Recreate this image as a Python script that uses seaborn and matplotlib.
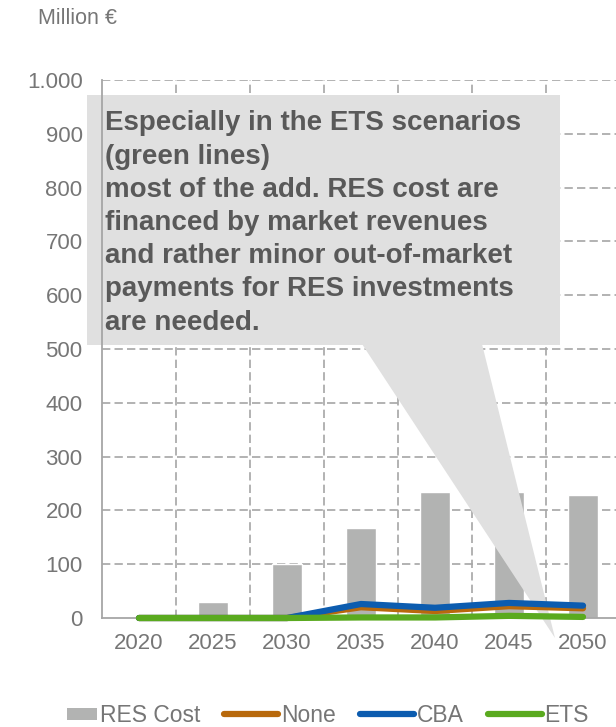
import numpy as np
import pandas as pd
import matplotlib
matplotlib.use("Agg")
import matplotlib.pyplot as plt
from matplotlib.patches import Polygon, Rectangle
from matplotlib.lines import Line2D
from matplotlib.legend_handler import HandlerPatch
from matplotlib.ticker import FixedLocator, FuncFormatter
import seaborn as sns

# ---- data ----
years = ["2020", "2025", "2030", "2035", "2040", "2045", "2050"]
res_cost = [0, 30, 101, 168, 234, 234, 229]
none_vals = [0, 0, 0, 20, 13, 22, 18]
cba_vals = [0, 0, 0, 26, 19, 28, 23]
ets_vals = [0, 0, 0, 1, 1, 4, 2]
scenarios = ["None", "CBA", "ETS"]
colors = {"None": "#B8690C", "CBA": "#0C5CAF", "ETS": "#5AAA1F"}
bar_color = "#B2B3B2"
note = ("Especially in the ETS scenarios\n(green lines)\n"
        "most of the add. RES cost are\nfinanced by market revenues\n"
        "and rather minor out-of-market\npayments for RES investments\n"
        "are needed.")

sns.set_theme(style="white")
plt.rcParams["font.family"] = ["Liberation Sans", "DejaVu Sans"]
plt.rcParams["lines.scale_dashes"] = False

W, H = 616, 727
fig = plt.figure(figsize=(W / 100, H / 100), dpi=100)
ax = fig.add_axes([102 / W, (H - 618) / H, (620 - 102) / W, (618 - 80) / H])

grid_c = "#A6A6A6"
text_c = "#767676"

bars = pd.DataFrame({"year": years, "cost": res_cost})
sns.barplot(data=bars, x="year", y="cost", color=bar_color, width=0.4,
            saturation=1, ax=ax, zorder=2)

pos = np.arange(len(years))
lines = pd.DataFrame({
    "pos": np.tile(pos, 3),
    "value": none_vals + cba_vals + ets_vals,
    "scenario": np.repeat(scenarios, len(years)),
})
sns.lineplot(data=lines, x="pos", y="value", hue="scenario",
             hue_order=scenarios, palette=colors, linewidth=4.5,
             legend=False, ax=ax, zorder=5, solid_capstyle="round")
# scenario lines sit on the zero line, so let them spill past the axis
for ln in ax.lines:
    ln.set_clip_on(False)

ax.set_xlim(-0.5, len(years) - 0.5)
ax.set_ylim(0, 1000)
ax.set_xlabel("")
ax.set_ylabel("")
ax.set_xticks(pos)
ax.set_xticklabels(years)
ax.set_yticks(np.arange(0, 1001, 100))
ax.yaxis.set_major_formatter(FuncFormatter(lambda v, p: f"{int(v):,}".replace(",", ".")))
ax.xaxis.set_minor_locator(FixedLocator(np.arange(-0.5, len(years), 1.0)))

for s in ["top", "right"]:
    ax.spines[s].set_visible(False)
for s in ["left", "bottom"]:
    ax.spines[s].set_color(grid_c)
    ax.spines[s].set_linewidth(1.3)
    ax.spines[s].set_zorder(4)

ax.grid(False)
for v in np.arange(100, 1001, 100):
    ax.axhline(v, color=grid_c, lw=1.2, ls=(0, (6, 3)), zorder=1)
for b in np.arange(0.5, len(years) - 0.5, 1.0):
    ax.axvline(b, color=grid_c, lw=1.2, ls=(0, (6, 3)), zorder=1)

ax.tick_params(axis="y", which="major", direction="inout", length=8, width=1.2,
               color=grid_c, labelcolor=text_c, labelsize=16, pad=10)
ax.tick_params(axis="x", which="major", length=0, labelcolor=text_c,
               labelsize=16, pad=11)
ax.tick_params(axis="x", which="minor", direction="out", length=5, width=1.2,
               color=grid_c)

fig.text(38 / W, 1 - 18 / H, "Million €", color=text_c, fontsize=15.5,
         ha="left", va="center")

# callout box with pointer
callout_c = "#E0E0E0"
def fxy(x, y):
    return (x / W, 1 - y / H)

box = Rectangle(fxy(87, 345), (560 - 87) / W, (345 - 95) / H,
                transform=fig.transFigure, facecolor=callout_c,
                edgecolor="none", zorder=3)
box.set_clip_on(False)
ax.add_artist(box)
tri = Polygon([fxy(362, 344), fxy(482, 344), fxy(555, 638)],
              closed=True, transform=fig.transFigure, facecolor=callout_c,
              edgecolor="none", zorder=3)
tri.set_clip_on(False)
ax.add_artist(tri)
ax.text(105 / W, 1 - 223 / H, note, transform=fig.transFigure,
        ha="left", va="center", fontsize=20, fontweight="bold",
        color="#595959", linespacing=1.36, zorder=6)


# legend: flat rectangle for bars, lines for scenarios
def bar_patch(legend, orig_handle, xdescent, ydescent, width, height, fontsize):
    w = width * 0.55
    h = height * 0.75
    return Rectangle((width - w - xdescent, -ydescent + (height - h) / 2), w, h)

bar_handle = Rectangle((0, 0), 1, 1, facecolor=bar_color, edgecolor="none")
handles = [bar_handle] + [Line2D([], [], color=colors[s], lw=4.5,
                                 solid_capstyle="round") for s in scenarios]
labels = ["RES Cost"] + scenarios
fig.legend(handles, labels, loc="center left", bbox_to_anchor=(43 / W, 1 - 716 / H),
           ncol=4, frameon=False, fontsize=16.5, labelcolor=text_c,
           borderpad=0, borderaxespad=0,
           handlelength=2.36, handletextpad=0.12, columnspacing=1.05,
           handler_map={Rectangle: HandlerPatch(patch_func=bar_patch)})

fig.savefig("out.png", dpi=100)
